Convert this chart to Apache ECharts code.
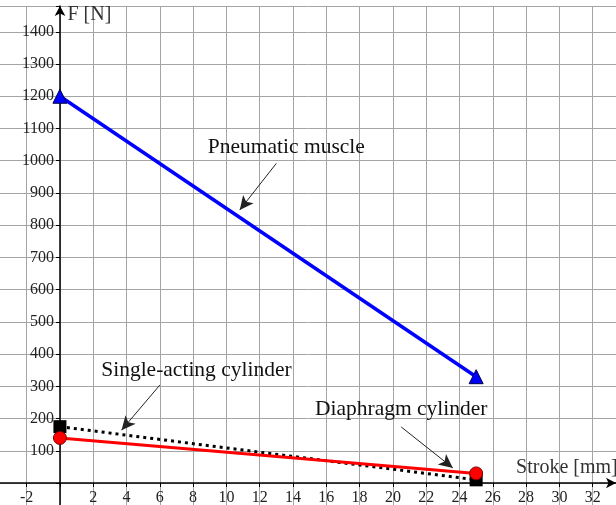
<!DOCTYPE html>
<html><head><meta charset="utf-8">
<script src="https://cdn.jsdelivr.net/npm/echarts@6/dist/echarts.min.js"></script>
<style>html,body{margin:0;padding:0;background:#fff}#c{width:616px;height:505px}</style>
</head><body><div id="c"></div>
<script>
// Data
const strokeMm = [0, 25];
const pneumaticMuscle = [1200, 330];
const singleActing = [175, 10];
const diaphragm = [140, 30];
const xTickLabels = [-2, 2, 4, 6, 8, 10, 12, 14, 16, 18, 20, 22, 24, 26, 28, 30, 32];
const yTickLabels = [100, 200, 300, 400, 500, 600, 700, 800, 900, 1000, 1100, 1200, 1300, 1400];
// Annotations (data coordinates)
const annotTexts = [
  { name: 'Pneumatic muscle', at: [13.6, 1042] },
  { name: 'Single-acting cylinder', at: [8.2, 350] },
  { name: 'Diaphragm cylinder', at: [20.5, 229] }
];
const annotArrows = [
  [[13.0, 992], [10.8, 847]],
  [[6.0, 304], [3.7, 164]],
  [[20.5, 174], [23.6, 47]]
];
const axisTitles = [
  { name: 'F [N]', at: [0.45, 1452] },
  { name: 'Stroke [mm]', at: [27.4, 47] }
];

const FONT = 'Liberation Serif';
const X_MIN = -4, X_MAX = 33.4, Y_MIN = -100, Y_MAX = 1480;
const toPairs = (ys) => strokeMm.map((x, i) => [x, ys[i]]);
const noAxis = { show: false };
const axisLineStyle = { onZero: false, lineStyle: { color: '#000', width: 1.5 }, symbol: ['none', 'arrow'], symbolSize: [8, 10] };
const tick = { show: true, inside: false, length: 4, lineStyle: { color: '#000', width: 1 } };

const chart = echarts.init(document.getElementById('c'), null, { renderer: 'canvas' });
chart.setOption({
  animation: false,
  grid: [
    // 0: plot area with grid lines and data
    { left: -6.67, right: 0, top: 6, bottom: -10.3, containLabel: false, outerBoundsMode: 'none' },
    // 1: horizontal axis along y = 0
    { left: -6.67, right: 0, top: 6, bottom: 22, containLabel: false, outerBoundsMode: 'none' },
    // 2: vertical axis along x = 0
    { left: 60, right: 0, top: 6, bottom: -10.3, containLabel: false, outerBoundsMode: 'none' }
  ],
  xAxis: [
    {
      gridIndex: 0, type: 'value', min: X_MIN, max: X_MAX, interval: 2,
      axisLine: noAxis, axisTick: noAxis, axisLabel: noAxis,
      splitLine: { show: true, lineStyle: { color: '#a4a4a4', width: 1 } }
    },
    {
      gridIndex: 1, type: 'value', min: X_MIN, max: X_MAX, interval: 2, position: 'bottom',
      axisLine: axisLineStyle, axisTick: tick, splitLine: noAxis,
      axisLabel: {
        color: '#222', fontFamily: FONT, fontSize: 16, margin: 7,
        formatter: (v) => xTickLabels.includes(v) ? String(v) : ''
      }
    },
    {
      gridIndex: 2, type: 'value', min: 0, max: X_MAX, interval: 2,
      axisLine: noAxis, axisTick: noAxis, axisLabel: noAxis, splitLine: noAxis
    }
  ],
  yAxis: [
    {
      gridIndex: 0, type: 'value', min: Y_MIN, max: Y_MAX, interval: 100,
      axisLine: noAxis, axisTick: noAxis, axisLabel: noAxis,
      splitLine: { show: true, lineStyle: { color: '#a4a4a4', width: 1 } }
    },
    {
      gridIndex: 1, type: 'value', min: 0, max: Y_MAX, interval: 100,
      axisLine: noAxis, axisTick: noAxis, axisLabel: noAxis, splitLine: noAxis
    },
    {
      gridIndex: 2, type: 'value', min: Y_MIN, max: Y_MAX, interval: 100, position: 'left',
      axisLine: axisLineStyle, axisTick: tick, splitLine: noAxis,
      axisLabel: {
        color: '#222', fontFamily: FONT, fontSize: 16, margin: 6,
        formatter: (v) => yTickLabels.includes(v) ? String(v) : ''
      }
    }
  ],
  series: [
    {
      name: 'Single-acting cylinder', type: 'line', xAxisIndex: 0, yAxisIndex: 0, data: toPairs(singleActing),
      lineStyle: { color: '#000', width: 3, type: [3, 4] },
      symbol: 'rect', symbolSize: 13, itemStyle: { color: '#000' }, z: 3
    },
    {
      name: 'Diaphragm cylinder', type: 'line', xAxisIndex: 0, yAxisIndex: 0, data: toPairs(diaphragm),
      lineStyle: { color: '#ff0000', width: 3 },
      symbol: 'circle', symbolSize: 13, itemStyle: { color: '#ff0000', borderColor: '#700', borderWidth: 1 }, z: 4
    },
    {
      name: 'Pneumatic muscle', type: 'line', xAxisIndex: 0, yAxisIndex: 0, data: toPairs(pneumaticMuscle),
      lineStyle: { color: '#0000ff', width: 3.5 },
      symbol: 'triangle', symbolSize: 14, itemStyle: { color: '#0000ff', borderColor: '#000044', borderWidth: 1 }, z: 5
    },
    {
      name: 'annotations', type: 'line', xAxisIndex: 0, yAxisIndex: 0, data: [], z: 6,
      markLine: {
        silent: true, animation: false,
        symbol: ['none', 'arrow'], symbolSize: [10, 14],
        lineStyle: { color: '#222', width: 1, type: 'solid' },
        label: { show: false },
        data: annotArrows.map(a => [{ coord: a[0] }, { coord: a[1] }])
      },
      markPoint: {
        silent: true, animation: false, symbol: 'circle', symbolSize: 0,
        data: annotTexts.map(t => ({
          name: t.name, coord: t.at,
          label: { show: true, position: 'inside', formatter: t.name, color: '#111', fontFamily: FONT, fontSize: 21.5 }
        })).concat(axisTitles.map(t => ({
          name: t.name, coord: t.at,
          label: { show: true, position: 'right', distance: 0, formatter: t.name, color: '#333', fontFamily: FONT, fontSize: 20 }
        })))
      }
    }
  ]
});
</script>
</body></html>
